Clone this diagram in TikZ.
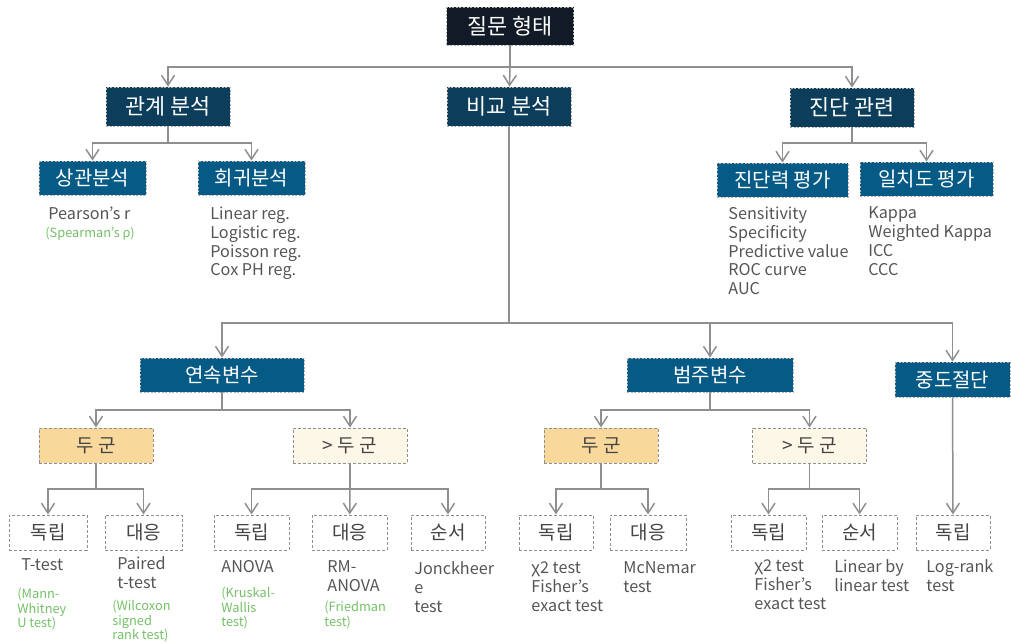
\documentclass[tikz,border=0pt]{standalone}
\usepackage{fontspec}
\setmainfont{Noto Sans CJK KR}
\usetikzlibrary{arrows.meta}
\definecolor{navy}{HTML}{111A26}
\definecolor{deepblue}{HTML}{0C3D5B}
\definecolor{midblue}{HTML}{065A86}
\definecolor{sand}{HTML}{F8D99B}
\definecolor{cream}{HTML}{FDF7E8}
\definecolor{linegray}{HTML}{8F8F8F}
\definecolor{txtgray}{HTML}{555555}
\definecolor{leafgreen}{HTML}{74C067}
\tikzset{
topbox/.style = {draw=gray!60, dash pattern=on 1pt off 0.8pt, line width=0.4pt, fill=navy, text=white, inner sep=0, minimum width=63.5pt, minimum height=19pt, font=\fontsize{10.9}{12}\selectfont},
mainbox/.style = {topbox, fill=deepblue, minimum width=62pt, minimum height=19.5pt},
subbox/.style = {topbox, fill=midblue, minimum height=17pt, font=\fontsize{10}{11}\selectfont},
grpbox/.style = {draw=linegray, dash pattern=on 1.5pt off 1pt, line width=0.5pt, fill=sand, text=txtgray!80!black, inner sep=0, minimum width=57pt, minimum height=17.5pt, font=\fontsize{9.5}{10}\selectfont},
leafbox/.style = {grpbox, fill=white, minimum height=17.5pt},
txt/.style = {inner sep=0, anchor=north west, align=left, text=txtgray, font=\fontsize{8.1}{9.4}\selectfont},
note/.style = {txt, text=leafgreen, font=\fontsize{6.4}{7.25}\selectfont},
conn/.style = {draw=linegray, line width=0.75pt}
}

\begin{document}
\begin{tikzpicture}[x=0.5pt, y=-0.5pt, >={Straight Barb[length=5pt,width=6.5pt]}]
		\useasboundingbox (0,0) rectangle (1011,642);

		% question type and three kinds of analysis
		\node [topbox] (q) at (510,26) {질문 형태};
		\node [mainbox] (rel) at (168,106.5) {관계 분석};
		\node [mainbox] (cmp) at (509,106.5) {비교 분석};
		\node [mainbox] (diag) at (852,107.5) {진단 관련};

		\coordinate (s0) at (510,67);
		\draw [conn,->] (q) -- (s0) -| (rel);
		\draw [conn,->] (s0) -- (cmp);
		\draw [conn,->] (s0) -| (diag);

		% relation
		\node [subbox, minimum width=53.5pt] (corr) at (92.5,178) {상관분석};
		\node [subbox, minimum width=53.5pt] (regr) at (251.5,178) {회귀분석};
		\coordinate (s1) at (168,143);
		\draw [conn,->] (rel) -- (s1) -| (corr);
		\draw [conn,->] (s1) -| (regr);

		\node [txt] (pr) at (48,206.5) {Pearson’s r};
		\node [note] (sp) at (45,227) {(Spearman’s ρ)};
		\node [txt] (regtxt) at (210,206.5) {Linear reg.\\Logistic reg.\\Poisson reg.\\Cox PH reg.};

		% diagnosis
		\node [subbox, minimum width=65.5pt] (acc) at (782.5,180) {진단력 평가};
		\node [subbox, minimum width=66.5pt] (agr) at (926.5,179) {일치도 평가};
		\coordinate (s2) at (852,143);
		\draw [conn,->] (diag) -- (s2) -| (acc);
		\draw [conn,->] (s2) -| (agr);

		\node [txt] (acctxt) at (728,206.5) {Sensitivity\\Specificity\\Predictive value\\ROC curve\\AUC};
		\node [txt] (agrtxt) at (868,206.5) {Kappa\\Weighted Kappa\\ICC\\CCC};

		% comparison
		\node [subbox, minimum width=82pt] (cont) at (222,375) {연속변수};
		\node [subbox, minimum width=83pt] (cat) at (710,375) {범주변수};
		\node [subbox, minimum width=57.5pt, minimum height=17.5pt] (cens) at (952.5,379.5) {중도절단};
		\coordinate (s3) at (509,323);
		\draw [conn,->] (cmp) -- (s3) -| (cont);
		\draw [conn,->] (s3) -| (cat);
		\draw [conn,->] (s3) -| (cens);

		\node [grpbox] (two1) at (96,445.5) {두 군};
		\node [grpbox, fill=cream] (more1) at (350,445.5) {> 두 군};
		\node [grpbox] (two2) at (601,445.5) {두 군};
		\node [grpbox, fill=cream] (more2) at (809.5,445.5) {> 두 군};
		\coordinate (s4) at (222,410);
		\coordinate (s5) at (710,410);
		\draw [conn,->] (cont) -- (s4) -| (two1);
		\draw [conn,->] (s4) -| (more1);
		\draw [conn,->] (cat) -- (s5) -| (two2);
		\draw [conn,->] (s5) -| (more2);

		% tests
		\node [leafbox, minimum width=39pt] (ind1) at (48,532.5) {독립};
		\node [leafbox, minimum width=38.5pt] (pair1) at (143.5,532.5) {대응};
		\node [leafbox, minimum width=37.5pt] (ind2) at (251.5,532.5) {독립};
		\node [leafbox, minimum width=37.5pt] (pair2) at (349.5,532.5) {대응};
		\node [leafbox, minimum width=37pt] (ord1) at (448,532.5) {순서};
		\node [leafbox, minimum width=37pt] (ind3) at (556,532.5) {독립};
		\node [leafbox, minimum width=38pt] (pair3) at (648,532.5) {대응};
		\node [leafbox, minimum width=37.5pt] (ind4) at (768.5,532.5) {독립};
		\node [leafbox, minimum width=37.5pt] (ord2) at (859.5,532.5) {순서};
		\node [leafbox, minimum width=37pt] (ind5) at (953,532.5) {독립};

		\coordinate (t1) at (96,489);
		\coordinate (t2) at (350,489);
		\coordinate (t3) at (601,489);
		\coordinate (t4) at (809.5,489);
		\draw [conn,->] (two1) -- (t1) -| (ind1);
		\draw [conn,->] (t1) -| (pair1);
		\draw [conn,->] (more1) -- (t2) -| (ind2);
		\draw [conn,->] (t2) -- (pair2);
		\draw [conn,->] (t2) -| (ord1);
		\draw [conn,->] (two2) -- (t3) -| (ind3);
		\draw [conn,->] (t3) -| (pair3);
		\draw [conn,->] (more2) -- (t4) -| (ind4);
		\draw [conn,->] (t4) -| (ord2);
		\draw [conn,->] (cens) -- (ind5);

		\node [txt] (tt) at (21,558.5) {T-test};
		\node [note] (mw) at (17,588) {(Mann-\\Whitney\\U test)};
		\node [txt] (ptt) at (117,556.5) {Paired\\t-test};
		\node [note] (wsr) at (112,600) {(Wilcoxon\\signed\\rank test)};
		\node [txt] (anova) at (221,560.5) {ANOVA};
		\node [note] (kw) at (221,587) {(Kruskal-\\Wallis\\test)};
		\node [txt] (rma) at (327,560.5) {RM-\\ANOVA};
		\node [note] (fr) at (324,601) {(Friedman\\test)};
		\node [txt] (jt) at (414,561.5) {Jonckheer\\e\\test};
		\node [txt] (chi1) at (531,561.5) {χ2 test\\Fisher’s\\exact test};
		\node [txt] (mcn) at (623,561.5) {McNemar\\test};
		\node [txt] (chi2) at (754,559.5) {χ2 test\\Fisher’s\\exact test};
		\node [txt] (lbl) at (834,559.5) {Linear by\\linear test};
		\node [txt] (lr) at (926,559.5) {Log-rank\\test};
\end{tikzpicture}
\end{document}
